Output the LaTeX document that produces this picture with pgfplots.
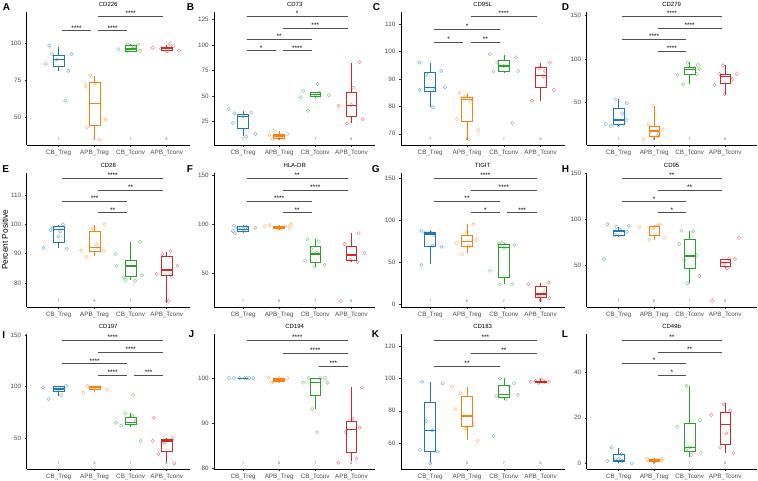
\documentclass[border=0pt]{standalone}
\usepackage{fontspec}
\setmainfont{Liberation Sans}
\usepackage{pgfplots}
\pgfplotsset{compat=1.18}
\usepgfplotslibrary{statistics}
\definecolor{c1}{HTML}{1F77B4}
\definecolor{c2}{HTML}{FF7F0E}
\definecolor{c3}{HTML}{2CA02C}
\definecolor{c4}{HTML}{D62728}
\definecolor{brkc}{HTML}{505050}
\newcommand{\fs}[1]{\fontsize{#1}{#1}\selectfont}
\pgfplotsset{
 pan/.style={scale only axis, anchor=north west, clip=false,
  axis x line*=bottom, axis y line*=left,
  axis line style={line width=0.6pt, black},
  xtick={1,2,3,4}, xticklabels={CB\_Treg,APB\_Treg,CB\_Tconv,APB\_Tconv},
  tick align=outside, major tick length=2pt,
  tick style={line width=0.5pt, black!80},
  ticklabel style={font=\fs{6.3}, text=black!70},
  /pgf/number format/assume math mode=true,
  every axis title/.style={at={(0.5,1)}, anchor=center, yshift=7.3pt, font=\fs{6}},
  boxplot/draw direction=y,
  boxplot/box extend=0.3, boxplot/whisker extend=0,
  boxplot/every median/.style={line width=1.2pt},
 },
 cA/.style={xmin=0.117,xmax=4.64,width=163pt},
 cB/.style={xmin=0.2,xmax=4.66,width=161pt},
 cC/.style={xmin=0.2,xmax=4.65,width=163.7pt},
 cD/.style={xmin=0.1,xmax=4.88,width=169.8pt},
 rA/.style={height=133pt}, rB/.style={height=134pt}, rC/.style={height=135pt},
 pts/.style={only marks, mark=o, mark size=1.7pt, line width=0.4pt, opacity=0.6},
 brk/.style={line width=0.8pt, draw=brkc},
}
\newcommand{\bx}[7]{\addplot[#1, line width=0.6pt, solid, boxplot prepared={draw position=#2, lower whisker=#3, lower quartile=#4, median=#5, upper quartile=#6, upper whisker=#7}] coordinates {};}
\newcommand{\br}[4]{\addplot[brk] coordinates {(#1,#3) (#2,#3)} node[pos=0.5, anchor=base, yshift=0.5pt, font=\fs{6.5}, text=black] {#4};}
\newcommand{\nl}{%
 \node[font=\fs{3.5}, text=black!75, anchor=south, yshift=0.6pt] at ({axis cs:1,0}|-{rel axis cs:0,0}) {7};
 \node[font=\fs{3.5}, text=black!75, anchor=south, yshift=0.6pt] at ({axis cs:2,0}|-{rel axis cs:0,0}) {6};
 \node[font=\fs{3.5}, text=black!75, anchor=south, yshift=0.6pt] at ({axis cs:3,0}|-{rel axis cs:0,0}) {7};
 \node[font=\fs{3.5}, text=black!75, anchor=south, yshift=0.6pt] at ({axis cs:4,0}|-{rel axis cs:0,0}) {6};}
\begin{document}
\begin{tikzpicture}
\useasboundingbox (0pt,0pt) rectangle (758pt,-481pt);
% ---------- A
\begin{axis}[pan,cA,rA,at={(26.7pt,-12pt)},ymin=31.3,ymax=121.1,ytick={50,75,100},title={CD226}]
\bx{c1}{1}{81.3}{84.2}{89.2}{92.1}{97.7}
\bx{c2}{2}{35.8}{44.3}{59.5}{73.4}{77.9}
\bx{c3}{3}{94.5}{94.8}{96.1}{98.4}{99.2}
\bx{c4}{4}{94.5}{95.5}{96.6}{97.5}{99}
\addplot[pts,c1] coordinates {(0.65,86)(0.74,98.4)(0.82,92.6)(1.19,61.2)(1.27,81.3)(1.36,92.6)(0.95,89)};
\addplot[pts,c2] coordinates {(1.75,71.1)(1.88,78.4)(1.79,43.2)(2.31,48.2)(2.12,35.1)(2.02,73)};
\addplot[pts,c3] coordinates {(2.66,95.9)(2.92,99.3)(3.21,99.1)(3.26,94.8)(2.92,94.8)(3.05,96.5)(3.1,97.5)};
\addplot[pts,c4] coordinates {(3.61,97)(4.09,99.3)(4.34,95)(4.0,94.5)(4.18,98)(3.85,96.5)};
\br{1.1}{1.9}{108.5}{****}
\br{2.1}{2.9}{108.5}{****}
\br{2.1}{3.9}{118.4}{****}
\nl
\end{axis}
% ---------- B
\begin{axis}[pan,cB,rA,at={(214.2pt,-12pt)},ymin=1.8,ymax=132.2,ytick={25,50,75,100,125},title={CD73}]
\bx{c1}{1}{10.6}{18.1}{29.5}{31.9}{35.1}
\bx{c2}{2}{6.7}{8.3}{10.6}{12.5}{15.5}
\bx{c3}{3}{48.5}{49.1}{51.5}{53.0}{54}
\bx{c4}{4}{23.0}{29.5}{40.7}{53.4}{82.5}
\addplot[pts,c1] coordinates {(0.60,36.8)(0.76,32.8)(0.72,23.6)(1.09,9.9)(1.23,33.4)(1.34,12.5)(1.0,30)};
\addplot[pts,c2] coordinates {(1.73,11.6)(1.86,15.9)(2.03,9.9)(2.23,12.5)(2.12,8.3)(1.82,7.3)};
\addplot[pts,c3] coordinates {(2.6,48.5)(2.67,55)(2.8,35.4)(3.06,61.6)(3.38,50.8)(3.0,51)(3.1,53)};
\addplot[pts,c4] coordinates {(3.65,40.3)(3.88,22.7)(4.04,58.0)(4.23,83.1)(4.31,27.0)(4.0,41)};
\br{1.1}{1.9}{94.2}{*}
\br{2.1}{2.9}{94.2}{****}
\br{1.1}{2.9}{105.7}{**}
\br{2.1}{3.9}{116.2}{***}
\br{1.1}{3.9}{128.2}{*}
\nl
\end{axis}
% ---------- C
\begin{axis}[pan,cC,rA,at={(400.8pt,-12pt)},ymin=65.9,ymax=114.5,ytick={70,80,90,100,110},title={CD95L}]
\bx{c1}{1}{79.9}{85.7}{87.0}{92.4}{95.7}
\bx{c2}{2}{67.7}{74.4}{82.6}{83.5}{84.8}
\bx{c3}{3}{92.2}{92.7}{94.8}{96.7}{98.8}
\bx{c4}{4}{82.1}{87.0}{91.4}{94.3}{95.7}
\addplot[pts,c1] coordinates {(0.70,96)(0.71,86)(0.89,91.8)(1.07,79.7)(1.12,86)(1.30,93)(1.40,87)};
\addplot[pts,c2] coordinates {(1.8,85)(1.73,75.4)(2.11,81.7)(2.31,71.4)(2.05,68)(1.95,83.5)};
\addplot[pts,c3] coordinates {(2.62,99.1)(2.82,96)(2.72,92.9)(3.0,94.8)(3.33,97.9)(3.39,92.9)(3.23,74)};
\addplot[pts,c4] coordinates {(3.77,82.1)(4.12,93)(4.25,96)(4.36,86)(4.08,91)(3.95,94)};
\br{1.1}{1.9}{103.4}{*}
\br{2.1}{2.9}{103.4}{**}
\br{1.1}{2.9}{108.2}{*}
\br{2.1}{3.9}{113.0}{****}
\nl
\end{axis}
% ---------- D
\begin{axis}[pan,cD,rA,at={(586.7pt,-12pt)},ymin=1.4,ymax=154.3,ytick={50,100,150},title={CD279}]
\bx{c1}{1}{23.2}{25.5}{30.1}{43.6}{54.3}
\bx{c2}{2}{7.1}{10.9}{17.5}{23.2}{46.2}
\bx{c3}{3}{71.1}{83.0}{88.4}{90.2}{96.4}
\bx{c4}{4}{58.9}{72.3}{79.9}{83.0}{93.3}
\addplot[pts,c1] coordinates {(0.64,25.5)(0.78,23.2)(0.92,53.9)(1.0,23.5)(1.1,37.8)(1.21,30.1)(1.23,49.3)};
\addplot[pts,c2] coordinates {(1.69,7.9)(1.84,25.2)(1.97,46.2)(2.09,11.7)(2.25,19.4)(2.13,14)};
\addplot[pts,c3] coordinates {(2.66,81.8)(2.82,71.1)(2.94,96)(3.19,83)(3.23,93.3)(3.28,88.7)(3.14,89.5)};
\addplot[pts,c4] coordinates {(3.7,70.3)(3.84,83)(3.94,93)(3.98,60)(4.21,77.2)(4.33,83)};
\br{2.1}{2.9}{109.4}{****}
\br{1.1}{2.9}{122.9}{****}
\br{2.1}{3.9}{135.5}{****}
\br{1.1}{3.9}{149.7}{****}
\nl
\end{axis}
% ---------- E
\begin{axis}[pan,cA,rB,at={(26.7pt,-173pt)},ymin=71.8,ymax=117.5,ytick={80,90,100,110},title={CD28}]
\bx{c1}{1}{92.0}{94.0}{98.1}{99.4}{99.8}
\bx{c2}{2}{89.2}{90.9}{92.0}{97.5}{99.8}
\bx{c3}{3}{81.0}{82.2}{85.8}{87.8}{94.1}
\bx{c4}{4}{73.1}{82.7}{84.4}{89.0}{90.7}
\addplot[pts,c1] coordinates {(0.58,91.9)(0.84,98.9)(1.0,95.9)(1.12,100)(1.23,91.8)(1.05,97.5)(0.78,98)};
\addplot[pts,c2] coordinates {(1.63,91)(1.77,88.8)(1.95,98.6)(2.05,93)(2.26,91)(2.28,100)};
\addplot[pts,c3] coordinates {(2.59,89.9)(2.61,85.8)(2.8,81.9)(2.87,81)(3.26,94)(3.32,82.6)(3.12,80.7)};
\addplot[pts,c4] coordinates {(3.72,83)(3.88,89.8)(4.05,73.9)(4.11,91)(4.12,82.7)(4.3,85.8)};
\br{2.1}{2.9}{104.0}{**}
\br{1.1}{2.9}{107.8}{***}
\br{2.1}{3.9}{111.7}{**}
\br{1.1}{3.9}{115.7}{****}
\nl
\end{axis}
% ---------- F
\begin{axis}[pan,cB,rB,at={(214.2pt,-173pt)},ymin=15.7,ymax=152,ytick={50,100,150},title={HLA-DR}]
\bx{c1}{1}{91.3}{92.3}{94.8}{97.4}{99}
\bx{c2}{2}{94}{95.8}{97.1}{98.1}{99.5}
\bx{c3}{3}{56.7}{60.8}{69.6}{77.8}{84.6}
\bx{c4}{4}{61}{63.5}{68.6}{77.8}{90.7}
\addplot[pts,c1] coordinates {(0.72,93)(0.77,90.7)(0.75,98.4)(1.09,97.1)(1.34,96.4)(1.0,95)(0.86,96)};
\addplot[pts,c2] coordinates {(1.59,97.8)(1.73,99)(1.98,94.8)(2.16,97.8)(2.28,96.4)(2.33,100)};
\addplot[pts,c3] coordinates {(2.78,84.6)(2.72,62.8)(2.98,56.7)(2.89,74.4)(3.09,82.2)(3.26,58.4)(3.05,71)};
\addplot[pts,c4] coordinates {(3.71,21.8)(3.81,79.8)(4.2,90.7)(4.17,61.5)(4.36,70.4)(3.97,63.5)};
\br{2.1}{2.9}{111.6}{**}
\br{1.1}{2.9}{123.2}{****}
\br{2.1}{3.9}{134.7}{****}
\br{1.1}{3.9}{146.6}{**}
\nl
\end{axis}
% ---------- G
\begin{axis}[pan,cC,rB,at={(400.8pt,-173pt)},ymin=-2.7,ymax=156.3,ytick={0,50,100,150},title={TIGIT}]
\bx{c1}{1}{48.3}{69.7}{83.9}{85.9}{87.8}
\bx{c2}{2}{61.0}{69.7}{74.8}{82.7}{95.4}
\bx{c3}{3}{24.6}{32.6}{67.7}{71.5}{73.5}
\bx{c4}{4}{3.6}{8.8}{12.8}{21.4}{25.4}
\addplot[pts,c1] coordinates {(0.76,87.8)(0.86,85.9)(0.76,47.1)(1.07,70)(1.31,68.9)(1.0,86.5)(1.1,83)};
\addplot[pts,c2] coordinates {(1.71,72.9)(1.86,60.2)(2.0,86.3)(2.18,95.4)(2.27,76.8)(2.05,69.7)};
\addplot[pts,c3] coordinates {(2.62,40.4)(2.86,72.1)(2.89,24)(3.23,24)(3.29,70.9)(2.95,73.5)(3.0,67)};
\addplot[pts,c4] coordinates {(3.66,24.3)(4.0,5.6)(4.11,13.6)(4.22,26.2)(4.24,7.7)(3.95,11)};
\br{2.1}{2.9}{109.2}{*}
\br{3.1}{3.9}{109.2}{***}
\br{1.1}{2.9}{122.7}{**}
\br{2.1}{3.9}{136.1}{****}
\br{1.1}{3.9}{150}{****}
\nl
\end{axis}
% ---------- H
\begin{axis}[pan,cD,rB,at={(586.7pt,-173pt)},ymin=4.2,ymax=150.3,ytick={50,100,150},title={CD95}]
\bx{c1}{1}{80.9}{82.0}{86.3}{88.2}{91.8}
\bx{c2}{2}{77.3}{82.7}{91.8}{91.8}{93.6}
\bx{c3}{3}{30.7}{46.4}{59.8}{78.4}{87.4}
\bx{c4}{4}{46.4}{48.1}{52.5}{56.5}{56.7}
\addplot[pts,c1] coordinates {(0.68,94.4)(0.59,56.5)(0.89,82.7)(0.94,91.8)(1.23,86.3)(1.28,92.9)(1.05,88)};
\addplot[pts,c2] coordinates {(1.59,91.1)(1.86,77.3)(2.1,93.3)(2.16,94.4)(2.29,79.8)(1.97,90)};
\addplot[pts,c3] coordinates {(2.71,72.6)(2.77,87.4)(2.93,30)(2.84,55.5)(3.19,60.1)(3.27,38)(3.1,87)};
\addplot[pts,c4] coordinates {(3.63,10.7)(4.05,46.4)(4.1,56.5)(4.27,56.5)(4.38,79.8)(3.97,51)};
\br{2.1}{2.9}{107}{*}
\br{1.1}{2.9}{119}{*}
\br{2.1}{3.9}{131.8}{**}
\br{1.1}{3.9}{144.5}{**}
\nl
\end{axis}
% ---------- I
\begin{axis}[pan,cA,rC,at={(26.7pt,-334pt)},ymin=20.3,ymax=151,ytick={50,100,150},title={CD197}]
\bx{c1}{1}{91.2}{95.8}{97.7}{100}{100.5}
\bx{c2}{2}{95}{97.7}{99.5}{100.5}{101}
\bx{c3}{3}{61.2}{63.5}{65.5}{70.0}{74.2}
\bx{c4}{4}{27.4}{37.7}{47.4}{49.3}{50.0}
\addplot[pts,c1] coordinates {(0.57,99.4)(0.72,88)(0.9,98.5)(1.07,91.9)(1.21,100.6)(1.0,97.5)(1.1,99)};
\addplot[pts,c2] coordinates {(1.69,94.1)(2.14,100)(2.34,97)(1.8,101)(2.0,99)(1.9,98)};
\addplot[pts,c3] coordinates {(2.59,65.1)(2.74,62.2)(2.86,74.2)(3.07,91.9)(3.14,66.7)(3.05,72)(3.28,47.4)};
\addplot[pts,c4] coordinates {(3.61,47.4)(3.77,34.8)(3.64,70)(3.93,45.8)(4.17,50)(4.21,25.8)};
\br{2.1}{2.9}{111}{****}
\br{3.1}{3.9}{111}{***}
\br{1.1}{2.9}{122.2}{****}
\br{2.1}{3.9}{133.5}{****}
\br{1.1}{3.9}{144.9}{****}
\nl
\end{axis}
% ---------- J
\begin{axis}[pan,cB,rC,at={(214.2pt,-334pt)},ymin=79.8,ymax=109.8,ytick={80,90,100},title={CD194}]
\bx{c1}{1}{100}{100}{100}{100}{100}
\bx{c2}{2}{99.0}{99.2}{99.6}{100}{100}
\bx{c3}{3}{93.1}{96.1}{99.0}{100}{100}
\bx{c4}{4}{81.5}{83.6}{88.5}{90.5}{98.1}
\addplot[pts,c1] coordinates {(0.61,100)(0.75,100)(0.91,100)(1.04,100)(1.17,100)(1.28,100)(1.1,100)};
\addplot[pts,c2] coordinates {(1.7,100)(1.79,99)(1.85,99.2)(2.0,100)(2.23,100)(2.1,99.5)};
\addplot[pts,c3] coordinates {(2.67,99)(2.82,100)(2.91,93.1)(3.05,88)(3.13,100)(3.27,100)(3.34,99)};
\addplot[pts,c4] coordinates {(3.64,81.2)(3.84,88)(4.03,91)(4.14,82.1)(4.23,89)(4.3,97.9)};
\br{3.1}{3.9}{102.7}{***}
\br{2.1}{3.9}{105.5}{****}
\br{1.1}{3.9}{108.4}{****}
\nl
\end{axis}
% ---------- K
\begin{axis}[pan,cC,rC,at={(400.8pt,-334pt)},ymin=44.1,ymax=127.4,ytick={60,80,100,120},title={CD183}]
\bx{c1}{1}{48.6}{55.2}{67.7}{85.2}{98.0}
\bx{c2}{2}{62.0}{70.2}{76.8}{88.7}{94.9}
\bx{c3}{3}{86.7}{88.1}{90.2}{95.9}{100}
\bx{c4}{4}{97.3}{97.3}{97.9}{98.4}{99.4}
\addplot[pts,c1] coordinates {(0.78,98)(0.89,73.7)(0.72,55.8)(1.0,47.6)(1.2,54.8)(1.34,97)(1.05,68)};
\addplot[pts,c2] coordinates {(1.59,94.9)(1.67,80.9)(1.82,90.8)(2.18,71.9)(2.29,61.5)(1.95,69)};
\addplot[pts,c3] coordinates {(2.72,64.6)(2.79,89.1)(2.9,100)(3.05,87.3)(3.15,94.9)(3.28,97)(3.38,89.8)};
\addplot[pts,c4] coordinates {(3.73,97.9)(3.86,98.4)(4.02,99.4)(4.11,97.9)(4.23,97.9)(3.95,97.3)};
\br{1.1}{2.9}{107.7}{**}
\br{2.1}{3.9}{115.5}{**}
\br{1.1}{3.9}{123.5}{***}
\nl
\end{axis}
% ---------- L
\begin{axis}[pan,cD,rC,at={(586.7pt,-334pt)},ymin=-2.5,ymax=56.8,ytick={0,20,40},title={CD49b}]
\bx{c1}{1}{0}{1.0}{1.1}{4.1}{6.6}
\bx{c2}{2}{0.5}{0.7}{1.1}{1.9}{2.2}
\bx{c3}{3}{2.9}{5.1}{7.0}{17.6}{34.0}
\bx{c4}{4}{4.4}{8.4}{17.1}{22.4}{26.4}
\addplot[pts,c1] coordinates {(0.68,1)(0.8,6.9)(1.08,4)(1.1,1)(1.37,0)(1.0,2)(0.9,1.5)};
\addplot[pts,c2] coordinates {(1.8,2)(1.95,1.1)(2.21,1)(2.24,2)(2.05,0.7)(1.85,0.8)};
\addplot[pts,c3] coordinates {(2.65,16.1)(2.91,34)(3.04,3.6)(3.29,19)(3.31,4.7)(2.9,6)(3.0,7)};
\addplot[pts,c4] coordinates {(3.61,21.2)(3.86,7)(3.96,25.9)(4.03,13.2)(4.14,23.1)(4.23,4.4)};
\br{2.1}{2.9}{38.7}{*}
\br{1.1}{2.9}{44.0}{*}
\br{2.1}{3.9}{48.9}{**}
\br{1.1}{3.9}{54.1}{**}
\nl
\end{axis}
% ---------- letters & label
\begin{scope}[every node/.style={font=\bfseries\fs{10}, anchor=north west, inner sep=0pt}]
\node at (2.7pt,-3.3pt) {A};
\node at (186.7pt,-3.3pt) {B};
\node at (372.7pt,-3.3pt) {C};
\node at (561.7pt,-3.3pt) {D};
\node at (2.2pt,-165pt) {E};
\node at (186.7pt,-165pt) {F};
\node at (371.7pt,-165pt) {G};
\node at (561.7pt,-165pt) {H};
\node at (2.2pt,-331pt) {I};
\node at (188.3pt,-330pt) {J};
\node at (371.7pt,-330pt) {K};
\node at (561.7pt,-330pt) {L};
\end{scope}
\node[rotate=90, font=\fs{8.3}] at (5pt,-240pt) {Percent Positive};
\end{tikzpicture}
\end{document}
